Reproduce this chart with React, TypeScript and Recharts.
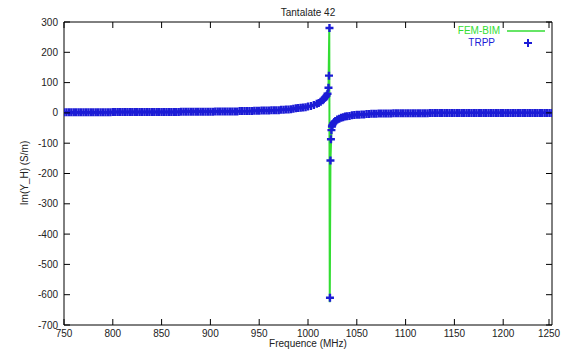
import React from "react";
import { ComposedChart, Line, Scatter, XAxis, YAxis, ReferenceArea } from "recharts";

const xTicks = [750, 800, 850, 900, 950, 1000, 1050, 1100, 1150, 1200, 1250];
const yTicks = [-700, -600, -500, -400, -300, -200, -100, 0, 100, 200, 300];

// FEM-BIM (line)
const femFreq = [750, 800, 850, 900, 950, 980, 1000, 1010, 1016, 1019, 1021, 1021.8, 1022.3, 1023, 1024, 1026, 1030, 1040, 1050, 1070, 1100, 1150, 1200, 1250];
const femVal = [2, 3, 3, 4, 7, 11, 21, 31, 45, 57, 85, 280, -625, -160, -57, -34, -22, -11, -6, -3, -1, 0, 0, 0];

// TRPP (points), below resonance
const trppFreqLow = [
  750, 752.5, 755, 757.5, 760, 762.5, 765, 767.5, 770, 772.5,
  775, 777.5, 780, 782.5, 785, 787.5, 790, 792.5, 795, 797.5,
  800, 802.5, 805, 807.5, 810, 812.5, 815, 817.5, 820, 822.5,
  825, 827.5, 830, 832.5, 835, 837.5, 840, 842.5, 845, 847.5,
  850, 852.5, 855, 857.5, 860, 862.5, 865, 867.5,
  870, 872.5, 875, 877.5, 880, 882.5, 885, 887.5, 890, 892.5, 895, 897.5, 900, 902.5,
  905, 907.5, 910, 912.5, 915, 917.5, 920, 922.5, 925, 927.5,
  930, 932.5, 935, 937.5, 940, 942.5,
  945, 947.5, 950, 952.5, 955, 957.5, 960, 962.5, 965, 967.5, 970, 972.5,
  975, 977.5, 980, 982.5, 985, 987.5, 990, 992.5, 995, 997.5, 1000,
];
const trppValLow = [
  2, 2, 2, 2, 2, 2, 2, 2, 2, 2,
  2, 2, 2, 2, 2, 2, 2, 2, 2, 2,
  3, 3, 3, 3, 3, 3, 3, 3, 3, 3,
  3, 3, 3, 3, 3, 3, 3, 3, 3, 3,
  3, 3, 3, 3, 3, 3, 3, 3,
  4, 4, 4, 4, 4, 4, 4, 4, 4, 4, 4, 4, 4, 4,
  5, 5, 5, 5, 5, 5, 5, 5, 5, 5,
  6, 6, 6, 6, 6, 6,
  7, 7, 7, 8, 8, 8, 8, 9, 9, 9, 9, 10,
  10, 11, 11, 12, 14, 15, 16, 17, 18, 19, 21,
];

// TRPP around the resonance
const trppFreqRes = [
  1003, 1006, 1009, 1011, 1013, 1015, 1016, 1017, 1018, 1019, 1020, 1021, 1021.5, 1022,
  1022.5, 1023, 1023.5, 1024, 1024.5, 1025, 1026, 1027, 1028, 1030, 1032, 1034, 1036, 1038, 1040,
];
const trppValRes = [
  23, 26, 30, 33, 37, 42, 45, 49, 53, 57, 63, 83, 123, 280,
  -610, -157, -87, -57, -45, -40, -34, -30, -27, -22, -19, -16, -14, -12, -11,
];

// TRPP above resonance
const trppFreqHigh = [
  1042.5, 1045, 1047.5, 1050, 1052.5, 1055, 1057.5, 1060, 1062.5, 1065,
  1067.5, 1070, 1072.5, 1075, 1077.5, 1080, 1082.5, 1085,
  1087.5, 1090, 1092.5, 1095, 1097.5, 1100, 1102.5, 1105, 1107.5, 1110,
  1112.5, 1115, 1117.5, 1120, 1122.5,
  1125, 1127.5, 1130, 1132.5, 1135, 1137.5, 1140, 1142.5, 1145, 1147.5,
  1150, 1152.5, 1155, 1157.5, 1160, 1162.5, 1165, 1167.5, 1170, 1172.5,
  1175, 1177.5, 1180, 1182.5, 1185, 1187.5, 1190, 1192.5, 1195, 1197.5,
  1200, 1202.5, 1205, 1207.5, 1210, 1212.5, 1215, 1217.5, 1220, 1222.5,
  1225, 1227.5, 1230, 1232.5, 1235, 1237.5, 1240, 1242.5, 1245, 1247.5, 1250,
];
const trppValHigh = [
  -10, -8, -7, -6, -6, -5, -5, -4, -4, -3,
  -3, -3, -2, -2, -2, -2, -2, -2,
  -1, -1, -1, -1, -1, -1, -1, -1, -1, -1,
  -1, -1, -1, -1, -1,
  0, 0, 0, 0, 0, 0, 0, 0, 0, 0,
  0, 0, 0, 0, 0, 0, 0, 0, 0, 0,
  0, 0, 0, 0, 0, 0, 0, 0, 0, 0,
  0, 0, 0, 0, 0, 0, 0, 0, 0, 0,
  0, 0, 0, 0, 0, 0, 0, 0, 0, 0, 0,
];

const fem = femFreq.map((f, i) => ({ f, v: femVal[i] }));
const trppFreq = [...trppFreqLow, ...trppFreqRes, ...trppFreqHigh];
const trppVal = [...trppValLow, ...trppValRes, ...trppValHigh];
const trpp = trppFreq.map((f, i) => ({ f, v: trppVal[i] }));

const W = 565;
const H = 349;
const PL = 64;
const PR = 552;
const PT = 22;
const PB = 325;
const GREEN = "#33dd33";
const BLUE = "#1c1cd6";
const font = "'Liberation Sans', Arial, sans-serif";
const txt = { fontSize: 10, fill: "#222", fontFamily: font };

function YTick({ y, payload }: any) {
  return (
    <g>
      <text x={PL - 6} y={y} textAnchor="end" dominantBaseline="central" {...txt}>{payload.value}</text>
      <line x1={PL} x2={PL + 6} y1={y} y2={y} stroke="#000" />
      <line x1={PR - 6} x2={PR} y1={y} y2={y} stroke="#000" />
    </g>
  );
}

function XTick({ x, payload }: any) {
  return (
    <g>
      <text x={x} y={PB + 8} textAnchor="middle" dominantBaseline="central" {...txt}>{payload.value}</text>
      <line x1={x} x2={x} y1={PB} y2={PB - 6} stroke="#000" />
      <line x1={x} x2={x} y1={PT} y2={PT + 6} stroke="#000" />
    </g>
  );
}

const Cross = (p: any) => (
  <path d={`M${p.cx - 4},${p.cy}h8M${p.cx},${p.cy - 4}v8`} stroke={BLUE} strokeWidth={2.4} fill="none" />
);

const label: React.CSSProperties = { position: "absolute", fontFamily: font, fontSize: 10, color: "#222", whiteSpace: "nowrap", lineHeight: "12px" };

export default function App() {
  return (
    <div style={{ position: "absolute", left: 0, top: 0, width: W, height: H, background: "#fff" }}>
      <ComposedChart width={W} height={H} margin={{ top: PT, right: W - PR, bottom: 0, left: 0 }}>
        <XAxis dataKey="f" type="number" domain={[750, 1250]} ticks={xTicks} height={H - PB} tick={<XTick />} tickLine={false} axisLine={false} allowDataOverflow />
        <YAxis dataKey="v" type="number" domain={[-700, 300]} ticks={yTicks} width={PL} tick={<YTick />} tickLine={false} axisLine={false} allowDataOverflow />
        <ReferenceArea x1={750} x2={1250} y1={-700} y2={300} fill="none" stroke="#000" strokeWidth={1} />
        <Line data={fem} dataKey="v" stroke={GREEN} strokeWidth={2} dot={false} isAnimationActive={false} />
        <Scatter data={trpp} dataKey="v" shape={Cross} isAnimationActive={false} />
      </ComposedChart>
      <div style={{ ...label, left: 208, width: 200, top: 7, textAlign: "center" }}>Tantalate 42</div>
      <div style={{ ...label, left: 208, width: 200, top: 338, textAlign: "center" }}>Frequence (MHz)</div>
      <div style={{ ...label, left: 25, top: 173, transform: "translate(-50%, -50%) rotate(-90deg)" }}>Im(Y_H) (S/m)</div>
      <div style={{ ...label, right: W - 500, top: 25, color: GREEN }}>FEM-BIM</div>
      <svg style={{ position: "absolute", left: 505, top: 25 }} width={42} height={24}>
        <line x1={2} x2={40} y1={6} y2={6} stroke={GREEN} strokeWidth={1.5} />
        <path d="M19,18h8M23,14v8" stroke={BLUE} strokeWidth={2} />
      </svg>
      <div style={{ ...label, right: W - 495, top: 37, color: BLUE }}>TRPP</div>
    </div>
  );
}
